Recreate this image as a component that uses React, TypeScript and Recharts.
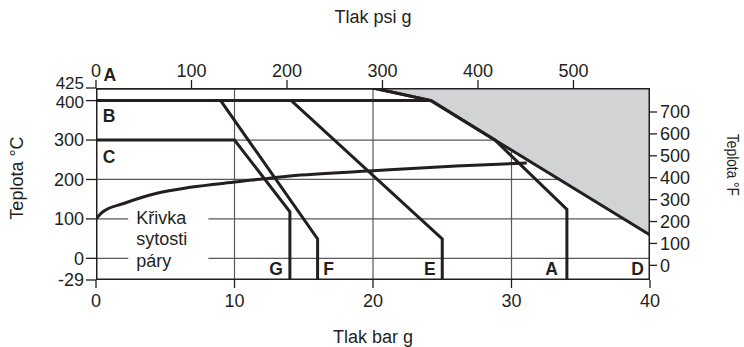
import React from 'react';
import {
  ComposedChart, Line, Area, XAxis, YAxis, CartesianGrid, ReferenceArea, ReferenceDot,
} from 'recharts';

// ---- tick labels ----
const barTicks = [0, 10, 20, 30, 40];
const psiTicks = [0, 100, 200, 300, 400, 500];
const celsiusTicks = [-29, 0, 100, 200, 300, 400, 425];
const fahrenheitTicks = [0, 100, 200, 300, 400, 500, 600, 700];
const gridCelsius = [0, 100, 200, 300];
const gridBar = [10, 20, 30];

// ---- limit curves (pressure bar g, temperature °C) ----
const curveABar = [0, 20, 24.2, 28.8, 34, 34];
const curveATemp = [425, 425, 400, 300, 124, -29];
const curveDBar = [20, 24.2, 28.8, 40];
const curveDTemp = [425, 400, 300, 59];
const curveBBar = [0, 24.2];
const curveBTemp = [400, 400];
const curveFBar = [0, 9, 16, 16];
const curveFTemp = [400, 400, 49, -29];
const curveEBar = [14.1, 25, 25];
const curveETemp = [400, 49, -29];
const curveCGBar = [0, 10, 14, 14];
const curveCGTemp = [300, 300, 118, -29];

// ---- saturation curve ----
const satBar = [0, 0.5, 2, 4.4, 6.8, 10.2, 14, 20, 26, 31.1];
const satTemp = [100, 118, 139, 165, 180, 194, 209, 222, 234, 242];

// ---- region labels (bar g, °C) ----
const labelNames = ['A', 'B', 'C', 'G', 'F', 'E', 'A', 'D'];
const labelBar = [1.0, 0.95, 0.95, 13.0, 16.8, 24.1, 32.9, 39.1];
const labelTemp = [451, 361, 259, -13.6, -13.6, -13.6, -13.6, -13.6];

const satLabelLines = ['Křivka', 'sytosti', 'páry'];
const satLabelBar = [2.33, 8.11];
const satLabelTemp = [-25, 130];

const PMIN = 0, PMAX = 40, TMIN = -29, TMAX = 425;

// axis display transform (the drawing stretches the ends of the °C axis)
const toDisp = (c: number) => (c < 0 ? (c * 55) / 29 : c > 400 ? 400 + ((c - 400) * 32) / 25 : c);
const fToDisp = (f: number) => (f - 32) / 1.8;
const psiToBar = (p: number) => p / 14.5038;

const build = (xs: number[], ys: number[]) => xs.map((x, i) => ({ x, y: toDisp(ys[i]) }));
const labeler = (pos: number[], labels: number[]) => (v: number) => {
  const i = pos.findIndex((t) => Math.abs(t - v) < 1e-6);
  return i >= 0 ? String(labels[i]) : '';
};

const frameData = build([PMIN, PMIN, PMAX, PMAX, PMIN], [TMIN, TMAX, TMAX, TMIN, TMIN]);
const dataA = build(curveABar, curveATemp);
const dataD = build(curveDBar, curveDTemp);
const dataB = build(curveBBar, curveBTemp);
const dataF = build(curveFBar, curveFTemp);
const dataE = build(curveEBar, curveETemp);
const dataCG = build(curveCGBar, curveCGTemp);
const dataSat = build(satBar, satTemp);
const grayData = curveDBar.map((x, i) => ({ x, range: [toDisp(curveDTemp[i]), toDisp(TMAX)] }));

const YDOM: [number, number] = [toDisp(TMIN), toDisp(TMAX)];
const cPos = celsiusTicks.map(toDisp);
const fPos = fahrenheitTicks.map(fToDisp);
const psiPos = psiTicks.map(psiToBar);
const cLabel = labeler(cPos, celsiusTicks);
const INK = '#231f20';
const FONT = 'Liberation Sans, Arial, Helvetica, sans-serif';
const FS = 18;

const lineProps = {
  dataKey: 'y',
  stroke: INK,
  strokeWidth: 3,
  dot: false,
  activeDot: false,
  isAnimationActive: false,
  type: 'linear' as const,
  strokeLinejoin: 'miter' as const,
};

const tickStyle = { fill: INK, fontSize: FS, fontFamily: FONT };

const LeftTick = (p: any) => {
  const v = p.payload.value;
  const label = cLabel(v);
  const shift = label === '425' ? -5 : label === '400' ? 1 : 0;
  const size = label === '425' || label === '400' ? 17 : FS;
  return (
    <text x={p.x} y={p.y + shift} dy="0.355em" textAnchor="end" fontSize={size} fontFamily={FONT} fill={INK}>
      {label}
    </text>
  );
};

export default function App() {
  return (
    <div style={{ position: 'absolute', left: 0, top: 0, background: '#fff' }}>
      <ComposedChart width={744} height={347} margin={{ top: 0, right: 0, bottom: 0, left: 0 }}>
        <CartesianGrid
          horizontalValues={gridCelsius.map(toDisp)}
          verticalValues={gridBar}
          stroke="#58595b"
          strokeWidth={1.2}
        />
        <XAxis
          xAxisId={0}
          dataKey="x"
          type="number"
          domain={[PMIN, PMAX]}
          ticks={barTicks}
          interval={0}
          allowDataOverflow
          orientation="bottom"
          height={67}
          axisLine={false}
          tickSize={8}
          tickMargin={6}
          tickLine={{ stroke: INK, strokeWidth: 1.3 }}
          tick={tickStyle}
        />
        <XAxis
          xAxisId="psi"
          dataKey="x"
          type="number"
          domain={[PMIN, PMAX]}
          ticks={psiPos}
          interval={0}
          tickFormatter={labeler(psiPos, psiTicks)}
          allowDataOverflow
          orientation="top"
          height={88}
          axisLine={false}
          tickSize={8}
          tickMargin={3}
          tickLine={{ stroke: INK, strokeWidth: 1.3 }}
          tick={tickStyle}
        />
        <YAxis
          yAxisId={0}
          type="number"
          domain={YDOM}
          ticks={cPos}
          interval={0}
          allowDataOverflow
          orientation="left"
          width={96}
          axisLine={false}
          tickSize={10}
          tickMargin={2}
          tickLine={{ stroke: INK, strokeWidth: 1.3 }}
          tick={LeftTick}
        />
        <YAxis
          yAxisId="f"
          type="number"
          domain={YDOM}
          ticks={fPos}
          interval={0}
          tickFormatter={labeler(fPos, fahrenheitTicks)}
          allowDataOverflow
          orientation="right"
          width={94}
          axisLine={false}
          tickSize={7}
          tickMargin={3}
          tickLine={{ stroke: INK, strokeWidth: 1.3 }}
          tick={tickStyle}
        />

        {/* invisible series binding the secondary axes */}
        <Line data={frameData} xAxisId="psi" yAxisId="f" dataKey="y" stroke="none" dot={false} activeDot={false} isAnimationActive={false} />

        <Area
          data={grayData}
          dataKey="range"
          type="linear"
          fill="#d1d3d4"
          fillOpacity={1}
          stroke="none"
          isAnimationActive={false}
          activeDot={false}
          dot={false}
        />

        <ReferenceArea
          x1={satLabelBar[0]}
          x2={satLabelBar[1]}
          y1={toDisp(satLabelTemp[0])}
          y2={toDisp(satLabelTemp[1])}
          shape={(p: any) => (
            <g>
              <rect x={p.x} y={p.y} width={p.width} height={p.height} fill="#fff" />
              {satLabelLines.map((t, i) => (
                <text
                  key={t}
                  x={p.x + 8}
                  y={p.y + 16.5 + i * 21.5}
                  fontSize={FS}
                  fontFamily={FONT}
                  fill={INK}
                >
                  {t}
                </text>
              ))}
            </g>
          )}
        />

        <Line data={dataSat} {...lineProps} type="monotone" />
        <Line data={dataB} {...lineProps} />
        <Line data={dataF} {...lineProps} />
        <Line data={dataE} {...lineProps} />
        <Line data={dataCG} {...lineProps} />
        <Line data={dataD} {...lineProps} />
        <Line data={dataA} {...lineProps} />
        <Line data={frameData} {...lineProps} strokeLinecap="square" />

        {labelNames.map((name, i) => (
          <ReferenceDot
            key={name + i}
            x={labelBar[i]}
            y={toDisp(labelTemp[i])}
            r={0}
            ifOverflow="visible"
            shape={(p: any) => (
              <text
                x={p.cx}
                y={p.cy}
                dy="0.36em"
                textAnchor="middle"
                fontSize={17.5}
                fontWeight="bold"
                fontFamily={FONT}
                fill={INK}
              >
                {name}
              </text>
            )}
          />
        ))}

        <text x={373} y={23} textAnchor="middle" fontSize={FS} fontFamily={FONT} fill={INK}>
          Tlak psi g
        </text>
        <text x={373} y={343} textAnchor="middle" fontSize={FS} fontFamily={FONT} fill={INK}>
          Tlak bar g
        </text>
        <text
          x={17}
          y={178}
          transform="rotate(-90 17 178)"
          textAnchor="middle"
          dy="0.36em"
          fontSize={FS}
          fontFamily={FONT}
          fill={INK}
        >
          Teplota °C
        </text>
        <text
          x={733}
          y={165}
          transform="rotate(90 733 165)"
          textAnchor="middle"
          dy="0.36em"
          fontSize={16}
          fontFamily={FONT}
          fill={INK}
          textLength={62}
          lengthAdjust="spacingAndGlyphs"
        >
          Teplota °F
        </text>
      </ComposedChart>
    </div>
  );
}
